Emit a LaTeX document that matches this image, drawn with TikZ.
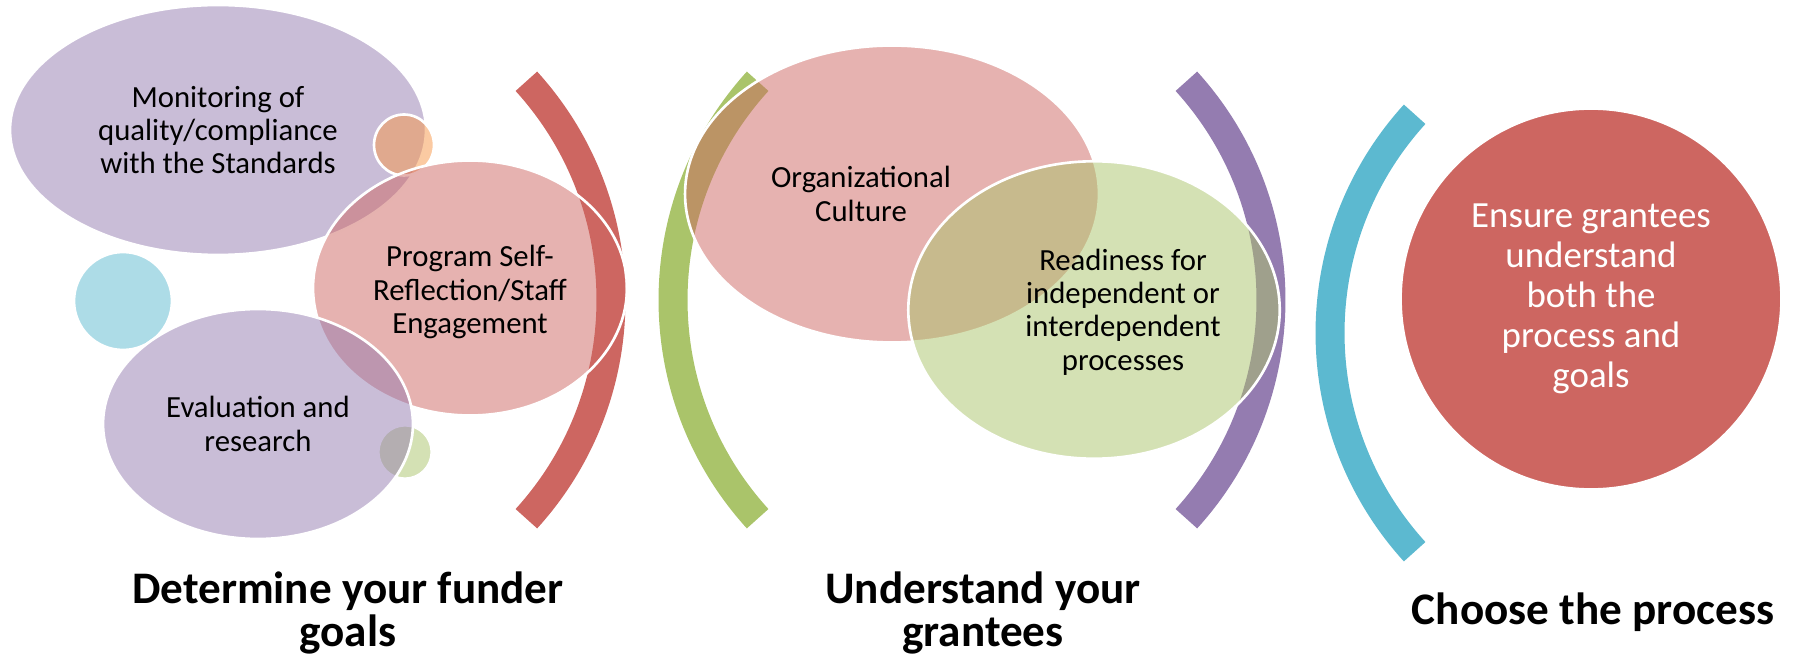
\documentclass[tikz,border=0pt]{standalone}
\usepackage{fontspec}
\setmainfont{Carlito}
\usetikzlibrary{shapes.geometric}

\definecolor{rosso}{RGB}{205,102,97}
\definecolor{viola}{RGB}{148,124,176}
\definecolor{verde}{RGB}{170,196,106}
\definecolor{azzurro}{RGB}{92,185,208}
\definecolor{arancio}{RGB}{247,150,70}

\tikzset{
  bolla/.style={ellipse, draw=white, line width=1.5pt, fill opacity=0.5,
    draw opacity=1, inner sep=0pt, outer sep=0pt},
  arco/.style={line width=0.58cm},
  testo/.style={align=center, font=\fontsize{17.5}{19}\selectfont},
  titolo/.style={align=center, font=\bfseries\fontsize{25.7}{25}\selectfont}
}

\begin{document}
\begin{tikzpicture}[x=0.02cm, y=-0.02cm]
    \useasboundingbox (0,0) rectangle (1794,658);

    % Archi
    \draw[arco, rosso] ([shift={(-42.3:325)}]286,300) arc[start angle=-42.3, end angle=42.3, radius=325];
    \draw[arco, verde] ([shift={(137.7:325)}]998,300) arc[start angle=137.7, end angle=222.3, radius=325];
    \draw[arco, viola] ([shift={(-42.3:325)}]946,300) arc[start angle=-42.3, end angle=42.3, radius=325];
    \draw[arco, azzurro] ([shift={(137.7:325)}]1655,333) arc[start angle=137.7, end angle=222.3, radius=325];

    % Bolle
    \node[bolla, fill=viola, minimum width=8.32cm, minimum height=5cm] (mon) at (218,130) {};
    \node[bolla, fill=arancio, minimum width=1.2cm, minimum height=1.22cm] (pArancio) at (404,145) {};
    \node[bolla, fill=rosso, minimum width=6.28cm, minimum height=5.1cm] (prog) at (470,288) {};
    \node[bolla, fill=azzurro, minimum width=1.96cm, minimum height=1.96cm] (pAzzurro) at (123,301) {};
    \node[bolla, fill=verde, minimum width=1.07cm, minimum height=1.07cm] (pVerde) at (405,452) {};
    \node[bolla, fill=viola, minimum width=6.2cm, minimum height=4.6cm] (eval) at (258,424) {};
    \node[bolla, fill=rosso, minimum width=8.28cm, minimum height=5.94cm] (org) at (892,194) {};
    \node[bolla, fill=verde, minimum width=7.43cm, minimum height=5.95cm] (ready) at (1094,310) {};
    \node[bolla, fill=rosso, fill opacity=1, minimum width=7.62cm, minimum height=7.62cm] (ensure) at (1591,299) {};

    % Testi
    \node[testo] (monT) at (mon) {Monitoring of\\quality/compliance\\with the Standards};
    \node[testo] (progT) at ([yshift=-0.08cm]prog.center) {Program Self-\\Reflection/Staff\\Engagement};
    \node[testo] (evalT) at (eval) {Evaluation and\\research};
    \node[testo] (orgT) at ([xshift=-0.62cm]org.center) {Organizational\\Culture};
    \node[testo] (readyT) at ([xshift=0.58cm, yshift=-0.04cm]ready.center) {Readiness for\\independent or\\interdependent\\processes};
    \node[testo, text=white, font=\fontsize{21}{22.8}\selectfont] (ensureT) at (ensure) {Ensure grantees\\understand\\both the\\process and\\goals};

    % Titoli
    \node[titolo] (goals) at (348,613) {Determine your funder\\goals};
    \node[titolo] (grantees) at (983,613) {Understand your\\grantees};
    \node[titolo] (process) at (1593,612) {Choose the process};
\end{tikzpicture}
\end{document}
